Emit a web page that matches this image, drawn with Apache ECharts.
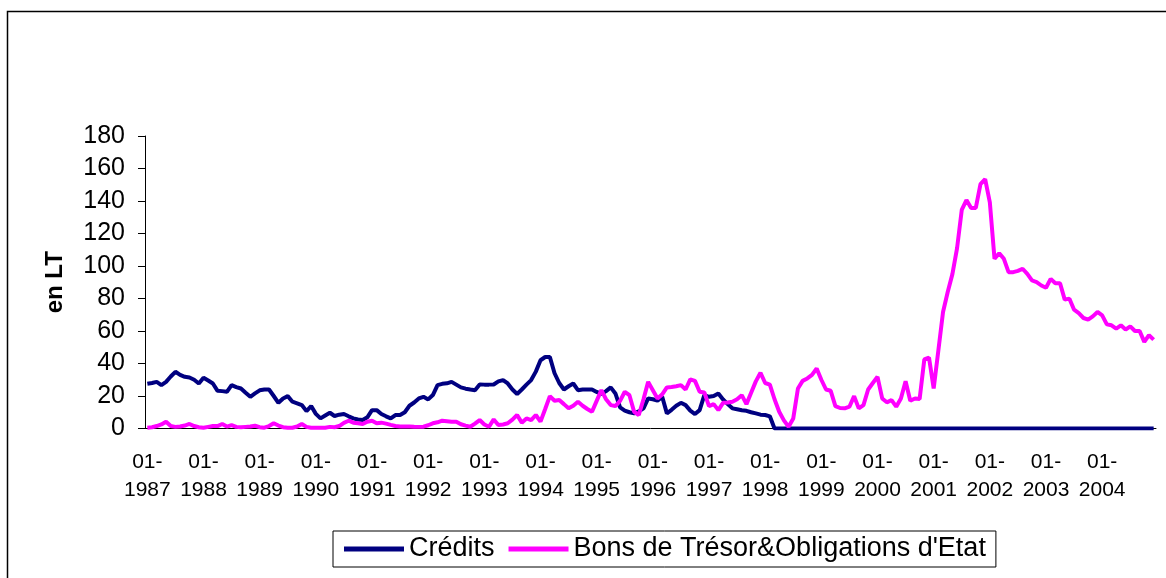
<!DOCTYPE html>
<html lang="fr">

<head>
    <meta charset="UTF-8">
    <title>Crédits et Bons de Trésor</title>
    <style>
        html, body { margin: 0; padding: 0; background: #fff; }
        #chart { width: 1166px; height: 578px; }
    </style>
</head>

<body>
    <div id="chart"></div>
</body>
<script src="https://cdn.jsdelivr.net/npm/echarts@6/dist/echarts.min.js"></script>

<script>
    // années couvertes (mensuel, janvier 1987 - décembre 2004)
    var years = [1987, 1988, 1989, 1990, 1991, 1992, 1993, 1994, 1995,
                 1996, 1997, 1998, 1999, 2000, 2001, 2002, 2003, 2004]
    var months = ['01', '02', '03', '04', '05', '06', '07', '08', '09', '10', '11', '12']

    // Crédits (en LT), une ligne = une année
    var credits = [
        27.5, 28, 28.7, 26.7, 28.7, 32, 34.9, 33, 31.8, 31.4, 30, 27.7,
        31.2, 29.5, 27.7, 23.2, 23, 22.6, 26.7, 25.5, 24.6, 22, 19.5, 21.6,
        23.5, 24, 24, 20, 15.8, 18.5, 19.9, 16.5, 15.5, 14.4, 10.7, 13.8,
        9, 6.2, 8, 9.7, 7.7, 8.5, 8.9, 7.5, 6.2, 5.5, 5.2, 6.9,
        11.3, 11.3, 8.9, 7.5, 6.2, 8.3, 8.3, 10, 14, 16, 18.5, 19.5,
        17.9, 20.6, 26.7, 27.5, 27.8, 28.7, 27, 25.3, 24.5, 24, 23.6, 27.1,
        27, 27, 27.1, 29, 29.8, 27.7, 24, 21.2, 24, 27, 29.8, 35,
        42, 44, 44, 34, 28, 24, 26, 27.7, 23.6, 24, 24, 24,
        22.5, 21.2, 23, 25.3, 21.6, 13, 11, 10, 9.3, 10.5, 12.4, 18.5,
        18, 17.1, 19.5, 9.3, 11.5, 14, 15.8, 14.4, 11, 8.9, 11.3, 20.5,
        19.5, 20, 21.6, 17.9, 15, 12.4, 11.8, 11.2, 10.9, 10, 9.3, 8.5,
        8.3, 7.5, 0, 0, 0, 0, 0, 0, 0, 0, 0, 0,
        0, 0, 0, 0, 0, 0, 0, 0, 0, 0, 0, 0,
        0, 0, 0, 0, 0, 0, 0, 0, 0, 0, 0, 0,
        0, 0, 0, 0, 0, 0, 0, 0, 0, 0, 0, 0,
        0, 0, 0, 0, 0, 0, 0, 0, 0, 0, 0, 0,
        0, 0, 0, 0, 0, 0, 0, 0, 0, 0, 0, 0,
        0, 0, 0, 0, 0, 0, 0, 0, 0, 0, 0, 0
    ]

    // Bons de Trésor & Obligations d'Etat (en LT)
    var bons = [
        0.5, 0.8, 1.5, 2.5, 4.2, 1.5, 1, 1.2, 1.8, 2.8, 1.5, 0.8,
        0.5, 1, 1.5, 1.5, 2.8, 1.2, 2.1, 1, 0.8, 1, 1.2, 1.7,
        0.8, 0.5, 1.5, 3.2, 1.8, 0.8, 0.5, 0.5, 1.2, 2.8, 1, 0.5,
        0.5, 0.5, 0.5, 1, 0.8, 1.5, 3.5, 4.8, 3.6, 3.2, 2.8, 4.2,
        4.8, 3.2, 3.6, 3, 2.2, 1.5, 1.3, 1.2, 1.3, 1.1, 1, 1.1,
        2, 3.2, 3.8, 4.8, 4.5, 4.2, 4.2, 2.6, 1.8, 1.1, 3, 5.2,
        2.5, 1.1, 5.6, 2.1, 2.5, 3.2, 5.5, 8.3, 3.6, 6.2, 5.2, 8.3,
        4.2, 12, 19.9, 17.1, 17.5, 15, 12.4, 14, 16.5, 14, 12, 10.3,
        17, 23.6, 18, 14.4, 13.8, 17, 22.6, 20.5, 10.3, 8.3, 18, 28.7,
        23.6, 18.5, 21, 25.3, 25.5, 26, 26.7, 24, 30.2, 29.3, 22.6, 22.2,
        13.8, 15, 11.3, 15.8, 16, 16.5, 18, 20.5, 15, 22, 29, 34.3,
        28, 27, 18, 10.3, 5, 1.1, 6.2, 24.6, 29.3, 30.8, 33, 36.9,
        30, 24, 23.2, 13.8, 12.6, 12.4, 13.4, 19.9, 12.4, 14.4, 24, 28,
        31.8, 18.5, 16.1, 17.5, 13.4, 18.5, 29.1, 17.1, 18.5, 18.1, 42.5, 43.7,
        24.6, 48, 71.7, 84, 95, 111, 134.5, 140.6, 135.7, 135.7, 150.4, 153.5,
        139.2, 104.4, 107.9, 104.4, 96.2, 96.2, 97, 98.3, 95.2, 91.1, 90.1, 88,
        86.6, 92.1, 89.4, 89.4, 79.3, 79.9, 73.1, 71, 68, 67, 69, 71.7,
        69.6, 64.1, 63.5, 61.5, 63.5, 60.9, 62.9, 60, 60, 53.3, 57.4, 54.7
    ]

    var yTicks = [0, 20, 40, 60, 80, 100, 120, 140, 160, 180]

    var categories = []
    for (let y = 0; y < years.length; y++) {
        for (let m = 0; m < months.length; m++) {
            categories.push(months[m] + '-' + years[y])
        }
    }

    var font = "'Liberation Sans', Arial, sans-serif"
    var myChart = echarts.init(document.getElementById('chart'))

    option = {
        animation: false,
        backgroundColor: '#fff',
        textStyle: { fontFamily: font, color: '#000' },
        graphic: [{
            type: 'rect',
            shape: { x: 7.5, y: 11.5, width: 1200, height: 620 },
            style: { fill: 'none', stroke: '#000', lineWidth: 1.5 },
            silent: true
        }],
        grid: { left: 145, width: 1011, top: 136, height: 292.5 },
        legend: {
            left: 333,
            top: 531,
            padding: [3, 10, 3, 11],
            borderColor: '#000',
            borderWidth: 1,
            itemWidth: 60,
            itemHeight: 5,
            itemGap: 14,
            icon: 'rect',
            textStyle: { fontSize: 27, fontFamily: font, color: '#000', lineHeight: 30 },
            data: ['Crédits', "Bons de Trésor&Obligations d'Etat"]
        },
        xAxis: {
            type: 'category',
            data: categories,
            boundaryGap: true,
            axisLine: { lineStyle: { color: '#000', width: 1 } },
            axisTick: { interval: 0, length: 5, lineStyle: { color: '#000' } },
            axisLabel: {
                interval: 11,
                fontSize: 21,
                lineHeight: 28.5,
                margin: 19,
                color: '#000',
                formatter: function (v) { return v.replace('-', '-\n') }
            }
        },
        yAxis: {
            type: 'value',
            min: yTicks[0],
            max: yTicks[yTicks.length - 1],
            interval: 20,
            name: 'en LT',
            nameLocation: 'middle',
            nameRotate: 90,
            nameGap: 78,
            nameTextStyle: { fontSize: 24, fontWeight: 'bold', color: '#000' },
            axisLine: { show: true, lineStyle: { color: '#000', width: 1 } },
            axisTick: { show: true, length: 7, lineStyle: { color: '#000' } },
            axisLabel: { fontSize: 25, margin: 20, color: '#000' },
            splitLine: { show: false }
        },
        series: [
            {
                name: 'Crédits',
                type: 'line',
                data: credits,
                showSymbol: false,
                lineStyle: { color: '#000080', width: 4 },
                itemStyle: { color: '#000080' }
            },
            {
                name: "Bons de Trésor&Obligations d'Etat",
                type: 'line',
                data: bons,
                showSymbol: false,
                lineStyle: { color: '#FF00FF', width: 4 },
                itemStyle: { color: '#FF00FF' }
            }
        ]
    }
    myChart.setOption(option)
</script>

</html>
